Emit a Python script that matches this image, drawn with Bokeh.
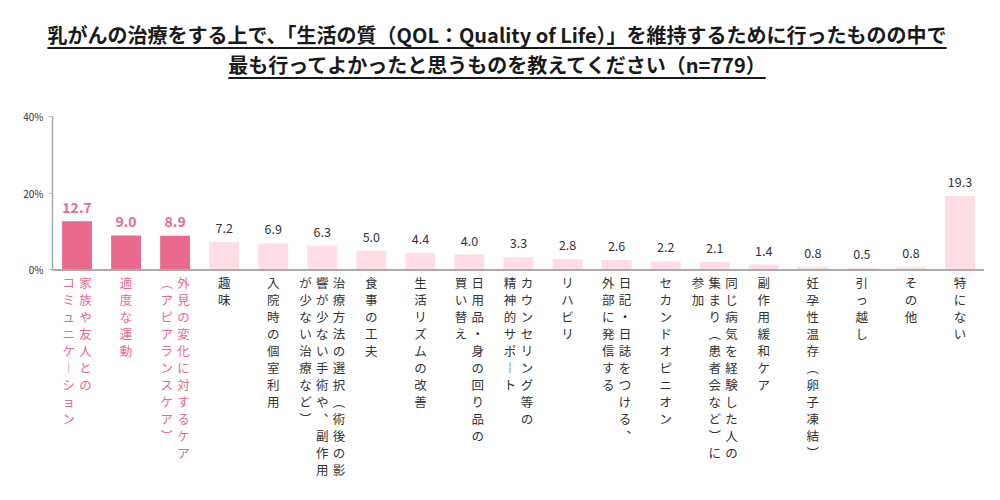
from bokeh.plotting import figure
from bokeh.models import (ColumnDataSource, FactorRange, Range1d, FixedTicker,
                          Span, Div, PrintfTickFormatter)
from bokeh.layouts import column
from bokeh.core.properties import value
from bokeh.embed import file_html
from bokeh.resources import INLINE

# ---------------- data ----------------
title_line1 = "乳がんの治療をする上で、「生活の質（QOL：Quality of Life）」を維持するために行ったものの中で"
title_line2 = "最も行ってよかったと思うものを教えてください（n=779）"

# category labels, split into the vertical text columns (right-most column first)
label_columns = [
    ["家族や友人との", "コミュニケーション"],
    ["適度な運動"],
    ["外見の変化に対するケア", "（アピアランスケア）"],
    ["趣味"],
    ["入院時の個室利用"],
    ["治療方法の選択（術後の影", "響が少ない手術や、副作用", "が少ない治療など）"],
    ["食事の工夫"],
    ["生活リズムの改善"],
    ["日用品・身の回り品の", "買い替え"],
    ["カウンセリング等の", "精神的サポート"],
    ["リハビリ"],
    ["日記・日誌をつける、", "外部に発信する"],
    ["セカンドオピニオン"],
    ["同じ病気を経験した人の", "集まり（患者会など）に", "参加"],
    ["副作用緩和ケア"],
    ["妊孕性温存（卵子凍結）"],
    ["引っ越し"],
    ["その他"],
    ["特にない"],
]
values = [12.7, 9.0, 8.9, 7.2, 6.9, 6.3, 5.0, 4.4, 4.0, 3.3,
          2.8, 2.6, 2.2, 2.1, 1.4, 0.8, 0.5, 0.8, 19.3]
highlight_count = 3
y_ticks = [0, 20, 40]

# ---------------- styles ----------------
HI = "#E96A8D"
LO = "#FFDDE5"
AXIS = "#AAAAAA"
TXT = "#333333"
FONT = "Noto Sans CJK JP"

categories = ["".join(c) for c in label_columns]
hi = [i < highlight_count for i in range(len(categories))]

bar_src = ColumnDataSource(dict(
    x=categories,
    top=values,
    color=[HI if h else LO for h in hi],
    label=["%.1f" % v for v in values],
    lcolor=[HI if h else TXT for h in hi],
    lsize=["14px" if h else "12.5px" for h in hi],
    lstyle=["bold" if h else "normal" for h in hi],
))

# vertical-writing forms of a few characters
VMAP = {"（": "︵", "）": "︶", "ー": "︱", "、": "︑"}
COL_GAP = 16.8    # px between text columns
ROW_GAP = 17.0    # px between characters in a column
ROW_START = 13.0  # px below the baseline to the first character's centre

cx, cy, ctext, cxo, cyo, ccol = [], [], [], [], [], []
for cat, cols, h in zip(categories, label_columns, hi):
    n = len(cols)
    for k, s in enumerate(cols):
        for i, ch in enumerate(s):
            cx.append(cat)
            cy.append(0)
            ctext.append(VMAP.get(ch, ch))
            cxo.append(((n - 1) / 2 - k) * COL_GAP)
            cyo.append(ROW_START + i * ROW_GAP)
            ccol.append(HI if h else TXT)
lab_src = ColumnDataSource(dict(x=cx, y=cy, text=ctext, xo=cxo, yo=cyo, color=ccol))

# ---------------- title ----------------
span_style = ("text-decoration: underline; text-decoration-thickness: 1.5px; "
              "text-underline-offset: 4px;")
title_div = Div(
    text=f'<span style="{span_style}">{title_line1}</span><br>'
         f'<span style="{span_style}">{title_line2}</span>',
    width=984, height=92,
    styles={"font-family": f"'{FONT}', sans-serif", "font-weight": "700",
            "font-size": "20px", "line-height": "30px", "text-align": "center",
            "color": "#1a1a1a", "padding-top": "15px", "box-sizing": "border-box"},
)

# ---------------- figure ----------------
p = figure(x_range=FactorRange(factors=categories), y_range=Range1d(-57, 40),
           width=984, height=392, output_backend="svg", toolbar_location=None,
           min_border_left=52, min_border_right=0, min_border_top=14,
           min_border_bottom=6)
p.outline_line_color = None
p.grid.visible = False
p.xaxis.visible = False
p.background_fill_color = "white"
p.border_fill_color = "white"

p.vbar(x="x", top="top", bottom=0, width=0.61, fill_color="color",
       line_color=None, source=bar_src)

p.add_layout(Span(location=0, dimension="width", line_color=AXIS, line_width=2))

p.text(x="x", y="top", text="label", source=bar_src, text_align="center",
       text_baseline="middle", y_offset=-14, text_color="lcolor",
       text_font_size="lsize", text_font_style="lstyle", text_font=value(FONT))

p.text(x="x", y="y", text="text", source=lab_src, x_offset="xo", y_offset="yo",
       text_align="center", text_baseline="middle", text_color="color",
       text_font_size="12.5px", text_font=value(FONT))

ya = p.yaxis[0]
ya.bounds = (0, 40)
ya.ticker = FixedTicker(ticks=y_ticks)
ya.formatter = PrintfTickFormatter(format="%d%%")
ya.axis_line_color = AXIS
ya.axis_line_width = 1.5
ya.major_tick_line_color = AXIS
ya.major_tick_out = 3
ya.major_tick_in = 0
ya.minor_tick_line_color = None
ya.major_label_standoff = 6
ya.major_label_text_font = FONT
ya.major_label_text_font_size = "10px"
ya.major_label_text_color = TXT

layout = column(title_div, p)
open("out.html", "w").write(file_html(layout, INLINE))
